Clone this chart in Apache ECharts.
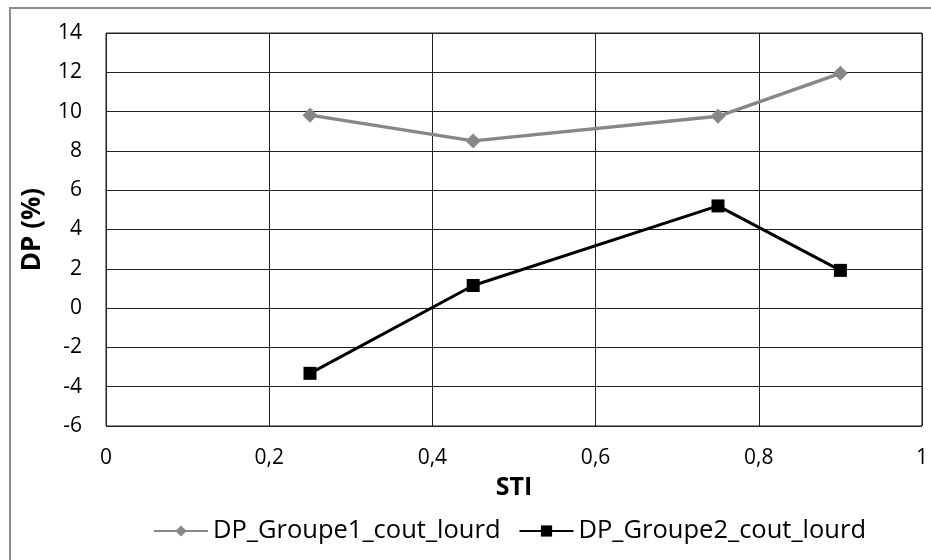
<!DOCTYPE html>
<html><head><meta charset="utf-8">
<script src="https://cdn.jsdelivr.net/npm/echarts@6/dist/echarts.min.js"></script>
<style>html,body{margin:0;padding:0;background:#fff}#c{width:931px;height:560px}</style>
</head><body><div id="c"></div>
<script>
const sti = [0.25, 0.45, 0.75, 0.9];
const groupe1 = [9.82, 8.51, 9.76, 11.95];
const groupe2 = [-3.32, 1.15, 5.2, 1.92];
const seriesNames = ['DP_Groupe1_cout_lourd', 'DP_Groupe2_cout_lourd'];

const FONT = '"Open Sans",sans-serif';
const chart = echarts.init(document.getElementById('c'), null, {renderer:'canvas'});
const fmt = v => String(Math.round(v*10)/10).replace('.', ',');
chart.setOption({
  animation:false,
  backgroundColor:'#fff',
  textStyle:{fontFamily:FONT},
  graphic:[{type:'rect', shape:{x:10,y:8,width:960,height:600}, style:{fill:'none', stroke:'#8c8c8c', lineWidth:2}, silent:true}],
  grid:{left:106, right:9, top:33, bottom:134, show:true, borderColor:'#222', borderWidth:1, containLabel:false},
  legend:{
    top:513, left:148, itemWidth:54, itemHeight:14, itemGap:18,
    textStyle:{fontSize:25.5, color:'#000', fontFamily:FONT},
    data:seriesNames
  },
  xAxis:{
    type:'value', min:0, max:1, interval:0.2,
    name:'STI', nameLocation:'middle', nameGap:49,
    nameTextStyle:{fontSize:25, fontWeight:'bold', color:'#000', fontFamily:FONT},
    axisLine:{show:false}, axisTick:{show:false},
    axisLabel:{fontSize:21, color:'#000', margin:22, formatter:fmt, fontFamily:FONT},
    splitLine:{show:true, lineStyle:{color:'#222', width:1}}
  },
  yAxis:{
    type:'value', min:-6, max:14, interval:2,
    name:'DP (%)', nameLocation:'middle', nameGap:60, nameRotate:90,
    nameTextStyle:{fontSize:26, fontWeight:'bold', color:'#000', fontFamily:FONT},
    axisLine:{show:false}, axisTick:{show:false},
    axisLabel:{fontSize:21, color:'#000', margin:24, formatter:fmt, fontFamily:FONT},
    splitLine:{show:true, lineStyle:{color:'#222', width:1}}
  },
  series:[
    {name:seriesNames[0], type:'line', data:sti.map((x,i)=>[x, groupe1[i]]),
     symbol:'diamond', symbolSize:15, showAllSymbol:true,
     lineStyle:{color:'#878787', width:3.5}, itemStyle:{color:'#878787'}},
    {name:seriesNames[1], type:'line', data:sti.map((x,i)=>[x, groupe2[i]]),
     symbol:'rect', symbolSize:13, showAllSymbol:true,
     lineStyle:{color:'#000', width:3}, itemStyle:{color:'#000'}}
  ]
});
</script></body></html>
